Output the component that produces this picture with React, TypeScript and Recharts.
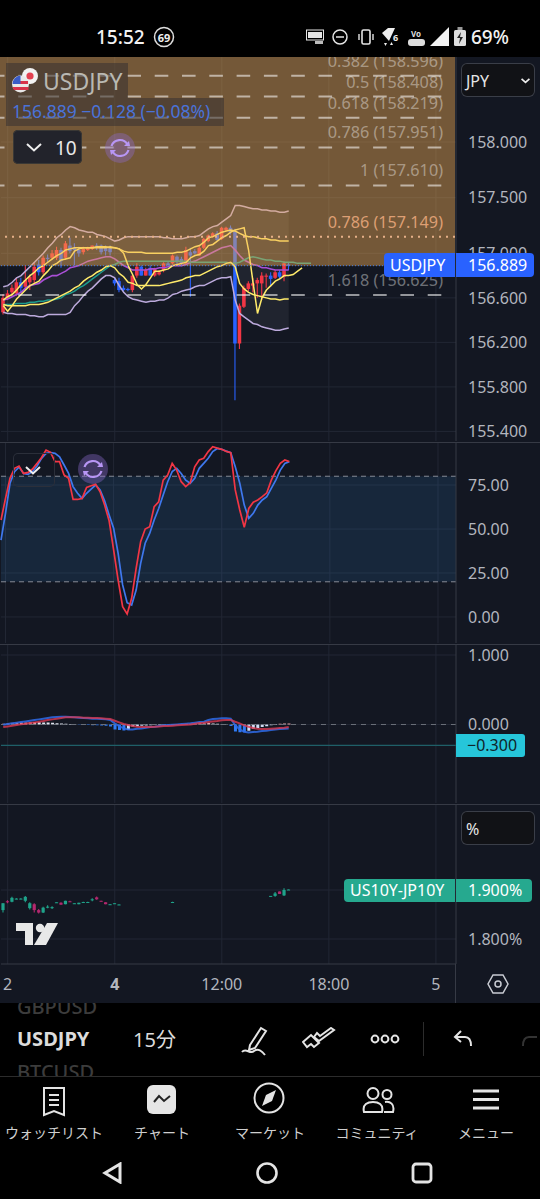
import React from 'react';
import {
  Area,
  Bar,
  CartesianGrid,
  Cell,
  ComposedChart,
  Line,
  ReferenceArea,
  ReferenceLine,
  XAxis,
  YAxis,
} from 'recharts';

const FONT = '"Noto Sans","Noto Sans CJK JP",sans-serif';
const BG = '#131722';
const GRID = '#222734';
const AXIS_TEXT = '#b2b5be';
const SEP = '#363a45';

// USDJPY 15分足 (one bar per slot, the right part of the chart is empty)
const priceOpen = [
  156.47, 156.60, 156.65, 156.64, 156.74, 156.70, 156.74, 156.76, 156.90, 156.83,
  156.96, 156.96, 156.96, 157.03, 156.96, 157.07, 157.05, 157.03, 157.01, 157.03,
  157.04, 157.07, 157.07, 157.05, 157.05, 156.76, 156.75, 156.69, 156.68, 156.67,
  156.80, 156.88, 156.80, 156.87, 156.80, 156.81, 156.85, 156.91, 156.91, 156.97,
  156.95, 156.91, 157.01, 157.02, 156.98, 157.05, 157.11, 157.15, 157.18, 157.13,
  157.21, 157.23, 157.20, 156.19, 156.52, 156.68, 156.71, 156.73, 156.73, 156.79,
  156.80, 156.78, 156.83, 156.79, 156.90,
];
const priceHigh = [
  156.63, 156.67, 156.72, 156.78, 156.78, 156.89, 156.81, 156.92, 156.94, 156.98,
  156.99, 157.03, 157.06, 157.05, 157.11, 157.14, 157.09, 157.06, 157.06, 157.06,
  157.07, 157.09, 157.08, 157.07, 157.07, 156.78, 156.78, 156.71, 156.69, 156.80,
  156.91, 156.89, 156.87, 156.89, 156.87, 156.85, 156.92, 156.93, 156.99, 156.98,
  156.97, 157.06, 157.05, 157.04, 157.07, 157.14, 157.17, 157.19, 157.20, 157.24,
  157.24, 157.25, 157.22, 156.55, 156.71, 156.75, 156.78, 156.78, 156.83, 156.82,
  156.83, 156.85, 156.85, 156.93, 156.92,
];
const priceLow = [
  156.45, 156.58, 156.62, 156.62, 156.65, 156.67, 156.67, 156.73, 156.80, 156.81,
  156.92, 156.94, 156.94, 156.87, 156.94, 157.00, 156.89, 156.97, 156.99, 157.02,
  157.03, 157.03, 156.99, 156.98, 156.98, 156.71, 156.65, 156.66, 156.66, 156.65,
  156.78, 156.80, 156.80, 156.80, 156.79, 156.80, 156.83, 156.89, 156.90, 156.90,
  156.89, 156.90, 156.61, 156.99, 156.98, 157.04, 157.10, 157.14, 157.11, 157.12,
  157.20, 157.17, 155.68, 156.14, 156.51, 156.66, 156.65, 156.60, 156.58, 156.69,
  156.70, 156.77, 156.77, 156.75, 156.85,
];
const priceClose = [
  156.60, 156.64, 156.69, 156.74, 156.69, 156.76, 156.79, 156.88, 156.83, 156.96,
  156.95, 157.00, 157.03, 156.93, 157.09, 157.02, 157.03, 157.00, 157.04, 157.05,
  157.07, 157.06, 157.01, 157.02, 157.01, 156.73, 156.67, 156.67, 156.67, 156.80,
  156.88, 156.80, 156.85, 156.80, 156.86, 156.83, 156.91, 156.89, 156.98, 156.92,
  156.91, 157.03, 156.98, 157.00, 157.05, 157.13, 157.16, 157.18, 157.12, 157.23,
  157.23, 157.19, 156.19, 156.53, 156.69, 156.73, 156.73, 156.76, 156.80, 156.80,
  156.77, 156.83, 156.79, 156.91, 156.889,
];

// ボリンジャーバンド
const bbUpper = [
  156.70, 156.71, 156.74, 156.78, 156.80, 156.84, 156.88, 156.92, 156.96, 157.00,
  157.05, 157.09, 157.14, 157.17, 157.21, 157.24, 157.23, 157.21, 157.20, 157.19,
  157.19, 157.17, 157.16, 157.15, 157.13, 157.11, 157.12, 157.14, 157.15, 157.15,
  157.15, 157.15, 157.15, 157.15, 157.15, 157.15, 157.14, 157.14, 157.13, 157.13,
  157.13, 157.14, 157.15, 157.15, 157.16, 157.19, 157.22, 157.24, 157.25, 157.28,
  157.31, 157.34, 157.43, 157.43, 157.42, 157.41, 157.40, 157.40, 157.39, 157.39,
  157.38, 157.38, 157.37, 157.37, 157.38,
];
const bbLower = [
  156.47, 156.46, 156.46, 156.45, 156.45, 156.45, 156.44, 156.44, 156.43, 156.43,
  156.45, 156.45, 156.45, 156.45, 156.45, 156.47, 156.53, 156.57, 156.62, 156.66,
  156.69, 156.73, 156.77, 156.80, 156.80, 156.78, 156.71, 156.65, 156.61, 156.59,
  156.58, 156.57, 156.56, 156.57, 156.57, 156.58, 156.58, 156.60, 156.63, 156.64,
  156.66, 156.67, 156.68, 156.70, 156.71, 156.71, 156.73, 156.75, 156.77, 156.78,
  156.78, 156.79, 156.58, 156.46, 156.43, 156.40, 156.37, 156.36, 156.34, 156.33,
  156.32, 156.31, 156.31, 156.32, 156.33,
];
const bbBasis = [
  156.58, 156.59, 156.61, 156.63, 156.65, 156.69, 156.71, 156.72, 156.73, 156.76,
  156.78, 156.80, 156.80, 156.82, 156.84, 156.87, 156.88, 156.89, 156.91, 156.93,
  156.94, 156.95, 156.96, 156.97, 156.97, 156.95, 156.92, 156.89, 156.87, 156.85,
  156.85, 156.85, 156.85, 156.86, 156.86, 156.87, 156.87, 156.88, 156.89, 156.89,
  156.89, 156.90, 156.92, 156.93, 156.95, 156.97, 156.99, 157.01, 157.03, 157.05,
  157.06, 157.07, 157.03, 156.98, 156.94, 156.92, 156.90, 156.89, 156.87, 156.87,
  156.86, 156.85, 156.85, 156.85, 156.85,
];
const innerUpper = [
  156.58, 156.61, 156.63, 156.67, 156.72, 156.76, 156.80, 156.83, 156.87, 156.89,
  156.92, 156.95, 156.98, 157.00, 157.03, 157.04, 157.05, 157.05, 157.05, 157.05,
  157.05, 157.06, 157.06, 157.06, 157.05, 157.05, 157.04, 157.02, 157.01, 157.01,
  157.01, 157.01, 157.00, 157.00, 157.00, 157.00, 157.00, 157.00, 157.00, 157.01,
  157.01, 157.02, 157.04, 157.06, 157.07, 157.10, 157.14, 157.15, 157.17, 157.19,
  157.20, 157.21, 157.20, 157.18, 157.16, 157.15, 157.15, 157.14, 157.13, 157.13,
  157.12, 157.12, 157.11, 157.11, 157.11,
];
const innerLower = [
  156.54, 156.53, 156.53, 156.53, 156.53, 156.53, 156.54, 156.54, 156.54, 156.55,
  156.56, 156.58, 156.60, 156.62, 156.64, 156.66, 156.69, 156.71, 156.75, 156.78,
  156.80, 156.83, 156.85, 156.88, 156.89, 156.87, 156.82, 156.79, 156.74, 156.73,
  156.71, 156.71, 156.71, 156.71, 156.71, 156.71, 156.72, 156.73, 156.74, 156.75,
  156.76, 156.78, 156.79, 156.80, 156.80, 156.82, 156.84, 156.86, 156.88, 156.89,
  156.91, 156.92, 156.88, 156.73, 156.68, 156.65, 156.63, 156.62, 156.61, 156.60,
  156.59, 156.59, 156.58, 156.59, 156.59,
];
const fastLine = [
  156.53, 156.48, 156.53, 156.59, 156.63, 156.67, 156.71, 156.73, 156.75, 156.80,
  156.84, 156.89, 156.91, 156.94, 156.95, 156.96, 157.02, 157.04, 157.05, 157.05,
  157.05, 157.05, 157.05, 157.05, 157.06, 157.05, 157.04, 157.00, 156.89, 156.81,
  156.72, 156.68, 156.72, 156.78, 156.84, 156.84, 156.85, 156.86, 156.89, 156.90,
  156.91, 156.92, 156.96, 156.98, 156.99, 157.02, 157.07, 157.08, 157.11, 157.14,
  157.16, 157.19, 157.21, 157.22, 157.23, 157.03, 156.74, 156.46, 156.60, 156.67,
  156.71, 156.75, 156.77, 156.80, 156.80, 156.81, 156.84, 156.87,
];
const tealLine = [
  156.54, 156.54, 156.54, 156.55, 156.55, 156.55, 156.56, 156.56, 156.57, 156.57,
  156.58, 156.58, 156.59, 156.60, 156.63, 156.64, 156.66, 156.69, 156.71, 156.74,
  156.77, 156.80, 156.83, 156.86, 156.89, 156.90, 156.92, 156.93, 156.93, 156.93,
  156.93, 156.93, 156.93, 156.93, 156.93, 156.93, 156.93, 156.93, 156.93, 156.93,
  156.93, 156.93, 156.92, 156.92, 156.92, 156.92, 156.92, 156.92, 156.92, 156.92,
  156.92, 156.91, 156.91, 156.92, 156.94, 156.96, 156.97, 156.96, 156.95, 156.94,
  156.94, 156.93, 156.93, 156.92, 156.92, 156.92, 156.91, 156.91, 156.91, 156.91,
];

// ストキャスティクスRSI
const stochK = [
  55.1, 67.4, 78.8, 84.5, 85.8, 81.6, 82.2, 84.1, 87.3, 90.7,
  94.9, 93.6, 88.3, 88.3, 80.7, 78.8, 66.8, 66.8, 67.4, 73.7,
  74.6, 75.4, 71.2, 63.6, 54.7, 38.1, 21.0, 5.9, 1.7, 10.6,
  27.6, 42.8, 50.0, 51.3, 62.7, 65.5, 77.8, 80.7, 87.3, 83.5,
  76.9, 74.1, 76.3, 85.4, 89.2, 90.2, 94.0, 96.8, 96.0, 95.3,
  94.1, 93.4, 72.2, 60.8, 51.0, 61.7, 65.2, 66.5, 68.4, 70.6,
  77.8, 83.1, 87.3, 89.2, 88.3,
];
const stochD = [
  43.7, 58.9, 76.0, 82.6, 85.2, 81.6, 81.1, 82.6, 85.8, 90.2,
  93.0, 93.4, 93.0, 91.1, 86.4, 81.6, 74.1, 70.3, 67.4, 70.3,
  72.7, 75.0, 72.2, 66.1, 58.0, 50.4, 36.2, 18.2, 8.1, 6.8,
  15.3, 30.5, 41.9, 47.5, 55.1, 61.7, 69.3, 76.9, 82.6, 84.5,
  81.6, 77.8, 76.0, 78.8, 84.5, 87.3, 90.2, 94.0, 95.8, 95.3,
  94.3, 93.4, 85.4, 76.0, 63.6, 56.1, 58.9, 63.6, 66.5, 68.4,
  73.1, 77.8, 83.5, 87.3, 88.3,
];

// MACD
const macdLine = [
  -0.003, 0.007, 0.017, 0.026, 0.036, 0.045, 0.055, 0.065, 0.074, 0.084,
  0.093, 0.103, 0.108, 0.113, 0.113, 0.108, 0.103, 0.098, 0.093, 0.089,
  0.084, 0.084, 0.079, 0.074, 0.065, 0.017, -0.022, -0.056, -0.07, -0.07,
  -0.06, -0.056, -0.046, -0.036, -0.031, -0.022, -0.012, -0.008, -0.003, 0.002,
  0.007, 0.012, 0.017, 0.026, 0.036, 0.04, 0.065, 0.079, 0.084, 0.089,
  0.089, 0.084, -0.008, -0.07, -0.103, -0.113, -0.108, -0.103, -0.094, -0.089,
  -0.08, -0.07, -0.065, -0.06, -0.056,
];
const macdSignal = [
  -0.036, -0.027, -0.017, -0.008, 0.002, 0.012, 0.021, 0.031, 0.04, 0.05,
  0.065, 0.074, 0.084, 0.093, 0.103, 0.103, 0.103, 0.103, 0.098, 0.098,
  0.093, 0.093, 0.089, 0.084, 0.079, 0.055, 0.031, 0.007, -0.008, -0.022,
  -0.031, -0.036, -0.036, -0.036, -0.031, -0.027, -0.022, -0.022, -0.017, -0.012,
  -0.008, -0.003, 0.002, 0.012, 0.021, 0.026, 0.036, 0.045, 0.05, 0.06,
  0.065, 0.065, 0.04, 0.017, -0.012, -0.031, -0.051, -0.06, -0.065, -0.065,
  -0.06, -0.056, -0.051, -0.046, -0.036,
];
const macdHist = [
  0.012, 0.016, 0.02, 0.024, 0.028, 0.03, 0.034, 0.036, 0.034, 0.03,
  0.028, 0.024, 0.02, 0.016, 0.012, 0.008, 0.004, -0.004, -0.006, -0.008,
  -0.01, -0.012, -0.014, -0.018, -0.028, -0.07, -0.08, -0.085, -0.075, -0.03,
  -0.024, -0.018, -0.014, -0.01, -0.008, -0.006, -0.004, 0.003, 0.005, 0.006,
  0.008, 0.01, 0.012, 0.016, 0.018, 0.02, 0.022, 0.016, 0.012, 0.008,
  0.004, -0.02, -0.1, -0.11, -0.11, -0.09, -0.06, -0.05, -0.036, -0.026,
  -0.012, -0.006, 0.01, 0.015, 0.016,
];

// US10Y-JP10Y
const yieldOpen = [
  1.859, 1.877, 1.876, 1.8815, 1.8815, 1.878, 1.863, 1.871, 1.859, 1.854,
  1.865, 1.864, 1.874, 1.874, 1.871, 1.877, 1.872, 1.871, 1.875, 1.875,
  1.88, 1.885, 1.878, 1.875, 1.87, 1.872, 1.87, null, null, null,
  null, null, null, null, null, null, null, null, 1.875, null,
  null, null, null, null, null, null, null, null, null, null,
  null, null, null, null, null, null, null, null, null, null,
  1.887, 1.888, 1.897, 1.889, 1.9,
];
const yieldHigh = [
  1.873, 1.879, 1.886, 1.883, 1.883, 1.888, 1.875, 1.873, 1.861, 1.866,
  1.869, 1.867, 1.875, 1.875, 1.878, 1.878, 1.873, 1.874, 1.876, 1.876,
  1.883, 1.887, 1.878, 1.875, 1.871, 1.873, 1.871, null, null, null,
  null, null, null, null, null, null, null, null, 1.876, null,
  null, null, null, null, null, null, null, null, null, null,
  null, null, null, null, null, null, null, null, null, null,
  1.888, 1.896, 1.897, 1.9035, 1.901,
];
const yieldLow = [
  1.854, 1.873, 1.875, 1.881, 1.881, 1.875, 1.86, 1.854, 1.852, 1.853,
  1.863, 1.861, 1.874, 1.87, 1.871, 1.876, 1.872, 1.871, 1.875, 1.875,
  1.877, 1.88, 1.877, 1.871, 1.87, 1.872, 1.87, null, null, null,
  null, null, null, null, null, null, null, null, 1.875, null,
  null, null, null, null, null, null, null, null, null, null,
  null, null, null, null, null, null, null, null, null, null,
  1.887, 1.886, 1.892, 1.888, 1.9,
];
const yieldClose = [
  1.873, 1.875, 1.884, 1.8825, 1.8825, 1.886, 1.873, 1.859, 1.854, 1.864,
  1.866, 1.865, 1.875, 1.87, 1.878, 1.876, 1.873, 1.874, 1.8755, 1.8755,
  1.881, 1.881, 1.877, 1.871, 1.871, 1.873, 1.8705, null, null, null,
  null, null, null, null, null, null, null, null, 1.8755, null,
  null, null, null, null, null, null, null, null, null, null,
  null, null, null, null, null, null, null, null, null, null,
  1.888, 1.893, 1.892, 1.9, 1.901,
];

// 軸
const SLOT_COUNT = 102;
const timeTickSlots = [1, 25, 49, 73, 97];
const timeTickLabels = ['2', '4', '12:00', '18:00', '5'];
const priceTicks = [155.4, 155.8, 156.2, 156.6, 157, 157.5, 158];
const stochTicks = [0, 25, 50, 75];
const macdTicks = [-1, 0, 1];
const yieldTicks = [1.8, 1.9];
const lastPrice = 156.889;

// フィボナッチ
const fibLevels = [158.596, 158.408, 158.219, 157.951, 157.61, 156.625];
const fibTexts = [
  '0.382 (158.596)',
  '0.5 (158.408)',
  '0.618 (158.219)',
  '0.786 (157.951)',
  '1 (157.610)',
  '1.618 (156.625)',
];
const fibTarget = 157.149;
const fibTargetText = '0.786 (157.149)';

const navLabels = ['ウォッチリスト', 'チャート', 'マーケット', 'コミュニティ', 'メニュー'];

const slots = Array.from({ length: SLOT_COUNT }, (_, i) => i);
const rows = slots.map(i => {
  const has = priceOpen[i] != null;
  const hasYield = yieldOpen[i] != null;
  return {
    slot: i,
    open: priceOpen[i] ?? null,
    high: priceHigh[i] ?? null,
    low: priceLow[i] ?? null,
    close: priceClose[i] ?? null,
    range: has ? [priceLow[i], priceHigh[i]] : null,
    band: has ? [bbLower[i], bbUpper[i]] : null,
    bbUpper: bbUpper[i] ?? null,
    bbLower: bbLower[i] ?? null,
    bbBasis: bbBasis[i] ?? null,
    innerUpper: innerUpper[i] ?? null,
    innerLower: innerLower[i] ?? null,
    fastLine: fastLine[i] ?? null,
    tealLine: tealLine[i] ?? null,
    stochK: stochK[i] ?? null,
    stochD: stochD[i] ?? null,
    macd: macdLine[i] ?? null,
    signal: macdSignal[i] ?? null,
    hist: macdHist[i] ?? null,
    yOpen: hasYield ? yieldOpen[i] : null,
    yHigh: hasYield ? yieldHigh[i] : null,
    yLow: hasYield ? yieldLow[i] : null,
    yClose: hasYield ? yieldClose[i] : null,
    yRange: hasYield ? [yieldLow[i], yieldHigh[i]] : null,
  };
});

const histColor = (v: number, i: number) => {
  const prev = i > 0 ? macdHist[i - 1] : v;
  if (v >= 0) return v >= prev ? '#e8a6ac' : '#dfe3ee';
  return v <= prev ? '#2f7bf5' : '#cfdcf6';
};

// ローソク足: Barの[low, high]の矩形から実体を割り出す
const candle = (o: string, h: string, l: string, c: string, up: string, down: string, bodyW: number) => (props: any) => {
  const { x, y, width, height, payload } = props;
  if (payload == null || payload[o] == null) return null;
  const top = Math.min(y, y + height);
  const span = Math.abs(height);
  const range = payload[h] - payload[l];
  const toY = (v: number) => (range > 0 ? top + ((payload[h] - v) / range) * span : top);
  const color = payload[c] >= payload[o] ? up : down;
  const cx = x + width / 2;
  const bodyTop = toY(Math.max(payload[o], payload[c]));
  const bodyH = Math.max(1, toY(Math.min(payload[o], payload[c])) - bodyTop);
  return (
    <g>
      <line x1={cx} x2={cx} y1={top} y2={top + span} stroke={color} strokeWidth={1.1} />
      <rect x={cx - bodyW / 2} y={bodyTop} width={bodyW} height={bodyH} fill={color} />
    </g>
  );
};

const axisTick = { fill: AXIS_TEXT, fontSize: 16, fontFamily: FONT };
const chartMargin = { top: 0, right: 0, bottom: 0, left: 1 };

const fmtMinus = (s: string) => s.replace('-', '−');

const FibLabel = (text: string, fill: string) => (props: any) => {
  const { viewBox } = props;
  return (
    <text x={viewBox.x + viewBox.width - 12} y={viewBox.y - 9} textAnchor="end" fill={fill} fontSize={16.2} fontFamily={FONT}>
      {text}
    </text>
  );
};

const Abs: React.FC<{ x: number; y: number; w?: number; h?: number; style?: React.CSSProperties; children?: React.ReactNode }> = ({ x, y, w, h, style, children }) => (
  <div style={{ position: 'absolute', left: x, top: y, width: w, height: h, ...style }}>{children}</div>
);

const Label: React.FC<{ x: number; y: number; size: number; color: string; anchor?: string; weight?: number; children: React.ReactNode }> = ({ x, y, size, color, anchor = 'left', weight = 400, children }) => (
  <div
    style={{
      position: 'absolute',
      left: x,
      top: y,
      transform: `translate(${anchor === 'center' ? '-50%' : anchor === 'right' ? '-100%' : '0'},-50%)`,
      fontSize: size,
      color,
      fontWeight: weight,
      whiteSpace: 'nowrap',
      lineHeight: 1,
      fontFamily: FONT,
    }}
  >
    {children}
  </div>
);

const Chevron: React.FC<{ cx: number; cy: number; size?: number; color?: string; width?: number }> = ({ cx, cy, size = 16, color = '#eee', width = 2 }) => (
  <svg style={{ position: 'absolute', left: cx - size / 2, top: cy - size / 2 }} width={size} height={size} viewBox="0 0 16 16">
    <path d="M1 5 L8 11.5 L15 5" fill="none" stroke={color} strokeWidth={width} />
  </svg>
);

const SyncIcon: React.FC<{ cx: number; cy: number }> = ({ cx, cy }) => (
  <svg style={{ position: 'absolute', left: cx - 16, top: cy - 16 }} width={32} height={32} viewBox="0 0 32 32">
    <circle cx={16} cy={16} r={15} fill="#8d6bd0" fillOpacity={0.38} />
    <path d="M7.5 14 A8.8 8.8 0 0 1 23.5 12.5" fill="none" stroke="#b896f5" strokeWidth={2.2} />
    <path d="M24.5 18 A8.8 8.8 0 0 1 8.5 19.5" fill="none" stroke="#b896f5" strokeWidth={2.2} />
    <path d="M20 14 L26 14 L25 9 Z" fill="#b896f5" />
    <path d="M12 18 L6 18 L7 23 Z" fill="#b896f5" />
  </svg>
);

const Icon: React.FC<{ x: number; y: number; w: number; h: number; children: React.ReactNode }> = ({ x, y, w, h, children }) => (
  <svg style={{ position: 'absolute', left: x, top: y }} width={w} height={h} viewBox={`0 0 ${w} ${h}`} fill="none" stroke="#e4e4e4" strokeWidth={2}>
    {children}
  </svg>
);

const PriceChart = () => (
  <ComposedChart width={540} height={384} data={rows} margin={chartMargin} barCategoryGap={0}>
    <CartesianGrid stroke={GRID} verticalValues={timeTickSlots} horizontalValues={priceTicks} />
    <XAxis dataKey="slot" hide ticks={timeTickSlots} />
    <YAxis
      orientation="right"
      width={84}
      domain={[155.314, 158.764]}
      ticks={priceTicks}
      tick={axisTick}
      tickLine={false}
      tickSize={0}
      tickMargin={12}
      axisLine={{ stroke: SEP }}
      tickFormatter={(v: number) => v.toFixed(3)}
      allowDataOverflow
    />
    <Area dataKey="band" stroke="none" fill="#ffffff" fillOpacity={0.06} isAnimationActive={false} />
    <Line dataKey="bbUpper" stroke="#bcaadc" strokeWidth={1.5} dot={false} isAnimationActive={false} />
    <Line dataKey="bbLower" stroke="#bcaadc" strokeWidth={1.5} dot={false} isAnimationActive={false} />
    <Line dataKey="bbBasis" stroke="#a94fd6" strokeWidth={1.6} dot={false} isAnimationActive={false} />
    <Line dataKey="tealLine" stroke="#1d9c8e" strokeWidth={1.5} dot={false} isAnimationActive={false} />
    <Bar dataKey="range" shape={candle('open', 'high', 'low', 'close', '#f23645', '#2962ff', 3.6)} isAnimationActive={false} />
    <Line dataKey="innerUpper" stroke="#ffeb6b" strokeWidth={1.5} dot={false} isAnimationActive={false} />
    <Line dataKey="innerLower" stroke="#ffeb6b" strokeWidth={1.5} dot={false} isAnimationActive={false} />
    <Line dataKey="fastLine" stroke="#ffeb6b" strokeWidth={1.5} dot={false} isAnimationActive={false} />
  </ComposedChart>
);

// 橙の帯とフィボナッチはローソク足の上に重なる
const FibOverlay = () => (
  <ComposedChart width={540} height={384} data={rows} margin={{ top: 0, right: 0, bottom: 0, left: 0 }} barCategoryGap={0}>
    <XAxis dataKey="slot" hide />
    <YAxis orientation="right" width={85} domain={[155.314, 158.764]} tick={false} tickLine={false} axisLine={false} allowDataOverflow />
    <ReferenceArea y1={lastPrice} y2={158.764} fill="#f2ac55" fillOpacity={0.44} stroke="none" ifOverflow="hidden" />
    <ReferenceLine y={lastPrice} stroke="#4d7fe0" strokeDasharray="1 2" />
    {fibLevels.map((level, i) => (
      <ReferenceLine
        key={level}
        y={level}
        stroke="#ffffff"
        strokeOpacity={0.55}
        strokeWidth={2}
        strokeDasharray="13.6 13.7"
        strokeDashoffset={13.6}
        label={FibLabel(fibTexts[i], '#ffffff66')}
      />
    ))}
    <ReferenceLine
      y={fibTarget}
      stroke="#e6b088"
      strokeWidth={2}
      strokeDasharray="2 5"
      label={FibLabel(fibTargetText, '#dd9f74')}
    />
  </ComposedChart>
);

const StochChart = () => (
  <ComposedChart width={540} height={200} data={rows} margin={chartMargin}>
    <CartesianGrid stroke={GRID} verticalValues={timeTickSlots} horizontalValues={stochTicks} />
    <XAxis dataKey="slot" hide ticks={timeTickSlots} />
    <YAxis
      orientation="right"
      width={84}
      domain={[-14.8, 98.9]}
      ticks={stochTicks}
      tick={axisTick}
      tickLine={false}
      tickSize={0}
      tickMargin={12}
      axisLine={{ stroke: SEP }}
      tickFormatter={(v: number) => v.toFixed(2)}
      allowDataOverflow
    />
    <ReferenceArea y1={20} y2={80} fill="#3992ea" fillOpacity={0.13} stroke="none" />
    <ReferenceLine y={80} stroke="#868b96" strokeDasharray="5 4" />
    <ReferenceLine y={20} stroke="#868b96" strokeDasharray="5 4" />
    <Line dataKey="stochD" stroke="#3f78ee" strokeWidth={1.7} dot={false} isAnimationActive={false} />
    <Line dataKey="stochK" stroke="#f23645" strokeWidth={1.7} dot={false} isAnimationActive={false} />
  </ComposedChart>
);

const MacdChart = () => (
  <ComposedChart width={540} height={158} data={rows} margin={chartMargin} barCategoryGap={0}>
    <CartesianGrid stroke={GRID} verticalValues={timeTickSlots} horizontalValues={macdTicks} />
    <XAxis dataKey="slot" hide ticks={timeTickSlots} />
    <YAxis
      orientation="right"
      width={84}
      domain={[-1.129, 1.144]}
      ticks={macdTicks}
      tick={axisTick}
      tickLine={false}
      tickSize={0}
      tickMargin={12}
      axisLine={{ stroke: SEP }}
      tickFormatter={(v: number) => fmtMinus(v.toFixed(3))}
      allowDataOverflow
    />
    <ReferenceLine y={0} stroke="#6b7079" strokeDasharray="5 5" />
    <ReferenceLine y={-0.3} stroke="#1f5f68" strokeWidth={1.2} />
    <Bar dataKey="hist" barSize={3} isAnimationActive={false}>
      {rows.map((r, i) => (
        <Cell key={r.slot} fill={r.hist == null ? 'none' : histColor(r.hist, i)} />
      ))}
    </Bar>
    <Line dataKey="macd" stroke="#2f6be8" strokeWidth={2} strokeOpacity={0.85} dot={false} isAnimationActive={false} />
    <Line dataKey="signal" stroke="#d93a52" strokeWidth={2} strokeOpacity={0.8} dot={false} isAnimationActive={false} />
  </ComposedChart>
);

const TimeTick = (props: any) => {
  const { x, y, payload } = props;
  const label = timeTickLabels[timeTickSlots.indexOf(payload.value)];
  return (
    <text x={x} y={y + 5} textAnchor="middle" fill={AXIS_TEXT} fontSize={16} fontFamily={FONT} fontWeight={label === '4' ? 700 : 400}>
      {label}
    </text>
  );
};

const YieldChart = () => (
  <ComposedChart width={540} height={198} data={rows} margin={chartMargin} barCategoryGap={0}>
    <CartesianGrid stroke={GRID} verticalValues={timeTickSlots} horizontalValues={yieldTicks} />
    <XAxis
      dataKey="slot"
      ticks={timeTickSlots}
      interval={0}
      height={39}
      tick={<TimeTick />}
      tickLine={false}
      axisLine={{ stroke: SEP }}
      tickMargin={15}
    />
    <YAxis
      orientation="right"
      width={84}
      domain={[1.749, 2.0735]}
      ticks={yieldTicks}
      tick={axisTick}
      tickLine={false}
      tickSize={0}
      tickMargin={12}
      axisLine={{ stroke: SEP }}
      tickFormatter={(v: number) => `${v.toFixed(3)}%`}
      allowDataOverflow
    />
    <Bar dataKey="yRange" shape={candle('yOpen', 'yHigh', 'yLow', 'yClose', '#1fa38a', '#b3286e', 3.2)} isAnimationActive={false} />
  </ComposedChart>
);

const StatusBar = () => (
  <Abs x={0} y={0} w={540} h={57} style={{ background: '#000' }}>
    <Label x={96} y={37} size={19} color="#f2f2f2" weight={500}>15:52</Label>
    <svg style={{ position: 'absolute', left: 153, top: 26 }} width={22} height={22}>
      <circle cx={11} cy={11} r={9.5} fill="none" stroke="#ddd" strokeWidth={1.5} />
    </svg>
    <Label x={164} y={37} size={11} color="#eee" anchor="center" weight={700}>69</Label>
    <Icon x={306} y={29} w={18} h={16}>
      <rect x={0.5} y={1} width={17} height={10} strokeWidth={1} />
      <rect x={2} y={3} width={14} height={6} fill="#e4e4e4" stroke="none" />
      <rect x={9} y={12} width={8} height={3} fill="#bbb" stroke="none" />
    </Icon>
    <Icon x={332} y={29} w={16} h={16}>
      <circle cx={8} cy={8} r={7} strokeWidth={1.5} />
      <line x1={4} x2={12} y1={8} y2={8} strokeWidth={1.5} />
    </Icon>
    <Icon x={357} y={28} w={18} h={18}>
      <rect x={5} y={2} width={8} height={14} rx={1.5} strokeWidth={1.6} />
      <line x1={2} x2={2} y1={6} y2={12} strokeWidth={1.4} />
      <line x1={16} x2={16} y1={6} y2={12} strokeWidth={1.4} />
    </Icon>
    <Icon x={382} y={28} w={18} h={18}>
      <path d="M0 5 L6 0 L13 0 L7 13 Z" fill="#eee" stroke="none" />
      <path d="M2 15 L5 15 L3.5 18 Z" fill="#eee" stroke="none" />
      <path d="M8 17 L11 17 L9.5 14 Z" fill="#eee" stroke="none" />
    </Icon>
    <Label x={393} y={37} size={9} color="#eee" weight={700}>6</Label>
    <Label x={416} y={34} size={8} color="#ddd" anchor="center" weight={700}>Vo</Label>
    <Abs x={408} y={39} w={17} h={7} style={{ background: '#ddd', borderRadius: 3 }} />
    <svg style={{ position: 'absolute', left: 430, top: 27 }} width={20} height={20}>
      <path d="M0 19 L19 0 L19 19 Z" fill="#f2f2f2" />
    </svg>
    <svg style={{ position: 'absolute', left: 454, top: 27 }} width={13} height={20}>
      <rect x={3.5} y={0} width={5} height={3} fill="#999" />
      <rect x={0} y={3} width={12} height={16} rx={1.5} fill="#ddd" />
      <path d="M7 5 L3 11 L6 11 L5 17 L9 10 L6 10 Z" fill="#222" />
    </svg>
    <Label x={471} y={37} size={19} color="#f2f2f2" weight={500}>69%</Label>
  </Abs>
);

const LegendOverlay = () => (
  <>
    <Abs x={6} y={63} w={122} h={35} style={{ background: 'rgba(55,50,50,0.55)' }} />
    <Abs x={6} y={98} w={218} h={28} style={{ background: 'rgba(55,50,50,0.55)' }} />
    <svg style={{ position: 'absolute', left: 11, top: 67 }} width={30} height={28}>
      <circle cx={19} cy={9} r={8} fill="#f2f2f2" />
      <circle cx={19} cy={9} r={3.6} fill="#e34050" />
      <circle cx={9.5} cy={17} r={8.5} fill="#e8e8e8" />
      <path d="M2 14 H17 V17 H2 Z M1.5 20 H17.5 V23 H3 Z" fill="#d8324a" />
      <path d="M1.5 17 A8.5 8.5 0 0 1 9.5 8.5 V17 Z" fill="#3a5cc8" />
    </svg>
    <Label x={43} y={81} size={23} color="#b9b8b2">USDJPY</Label>
    <Label x={12} y={112} size={17.5} color="#4a72d8">156.889 −0.128 (−0.08%)</Label>
    <Abs x={13} y={130} w={69} h={34} style={{ background: '#22232b', borderRadius: 5, boxShadow: 'inset 0 0 0 1px #3a3835' }} />
    <Chevron cx={34} cy={147} />
    <Label x={55} y={148} size={19} color="#e8e8e8">10</Label>
    <SyncIcon cx={120} cy={148} />

    <Abs x={461} y={63} w={74} h={34} style={{ background: '#111216', borderRadius: 6, boxShadow: 'inset 0 0 0 1px #3a3e48' }} />
    <Label x={466} y={81} size={16} color="#e6e6e6">JPY</Label>
    <Chevron cx={525} cy={80} size={9} width={3} />

    <Abs x={384} y={253} w={71} h={24} style={{ background: '#2962ff', borderRadius: '4px 0 0 4px' }} />
    <Abs x={456} y={253} w={78} h={24} style={{ background: '#2962ff', borderRadius: '0 4px 4px 0' }} />
    <Label x={390} y={265} size={16} color="#fff">USDJPY</Label>
    <Label x={468} y={265} size={16} color="#fff">156.889</Label>

    <Abs x={13} y={453} w={42} h={34} style={{ borderRadius: 5, boxShadow: 'inset 0 0 0 1px #2b2f3a' }} />
    <Chevron cx={33} cy={470} />
    <SyncIcon cx={93} cy={469} />

    <Abs x={456} y={734} w={69} h={23} style={{ background: '#26c6da', borderRadius: '0 3px 3px 0' }} />
    <Label x={467} y={745} size={16} color="#10242a">−0.300</Label>

    <Abs x={461} y={811} w={74} h={34} style={{ background: '#111216', borderRadius: 6, boxShadow: 'inset 0 0 0 1px #3a3e48' }} />
    <Label x={466} y={829} size={16} color="#e6e6e6">%</Label>

    <Abs x={344} y={879} w={111} h={23} style={{ background: '#26a98f', borderRadius: '4px 0 0 4px' }} />
    <Abs x={456} y={879} w={76} h={23} style={{ background: '#26a98f', borderRadius: '0 4px 4px 0' }} />
    <Label x={350} y={890} size={16} color="#fff">US10Y-JP10Y</Label>
    <Label x={468} y={890} size={16} color="#fff">1.900%</Label>

    <svg style={{ position: 'absolute', left: 16, top: 923 }} width={42} height={23}>
      <path d="M0 0 H17 V22 H9 V8 H0 Z" fill="#e8e8e8" />
      <circle cx={24} cy={5} r={4.2} fill="#e8e8e8" />
      <path d="M31 0 H42 L30 22 H18 Z" fill="#e8e8e8" />
    </svg>

    <svg style={{ position: 'absolute', left: 487, top: 973 }} width={22} height={22}>
      <path d="M6 2 H16 L21 11 L16 20 H6 L1 11 Z" fill="none" stroke="#c9ccd3" strokeWidth={1.5} />
      <circle cx={11} cy={11} r={3} fill="none" stroke="#c9ccd3" strokeWidth={1.5} />
    </svg>
  </>
);

const BottomBars = () => (
  <Abs x={0} y={1003} w={540} h={196} style={{ background: '#000', overflow: 'hidden' }}>
    <Label x={17} y={4} size={20} color="#3c3c3c" weight={500}>GBPUSD</Label>
    <Label x={17} y={36} size={20} color="#dcdcdc" weight={700}>USDJPY</Label>
    <Label x={17} y={69} size={20} color="#3c3c3c" weight={500}>BTCUSD</Label>
    <Abs x={0} y={73} w={540} h={123} style={{ background: '#000', borderTop: '1px solid #2c2c2c' }} />
    <Label x={133} y={37} size={20} color="#dcdcdc">15分</Label>

    <Icon x={240} y={22} w={28} h={32}>
      <path d="M10 20 L21 3 L26 6 L15 23 L9 25 Z" />
      <path d="M2 27 C6 22 10 30 14 26 C18 23 22 26 25 30" />
    </Icon>
    <Icon x={302} y={24} w={34} h={22}>
      <path d="M1 15 L9 8 L17 16 L12 20 L9 17 L5 20 Z" />
      <path d="M12 10 L17 14 L32 3 L29 1 L18 9 L15 6 Z" />
    </Icon>
    <Icon x={370} y={30} w={30} h={12}>
      <circle cx={5} cy={6} r={3.4} />
      <circle cx={15} cy={6} r={3.4} />
      <circle cx={25} cy={6} r={3.4} />
    </Icon>
    <Abs x={423} y={19} w={1} h={34} style={{ background: '#2c2c2c' }} />
    <Icon x={453} y={26} w={20} h={18}>
      <path d="M8 2 L2 8 L8 13 M2 8 H12 C16 8 18 11 18 17" />
    </Icon>
    <Icon x={521} y={26} w={19} h={18}>
      <path d="M2 17 C2 11 4 8 8 8 H16" stroke="#333" />
    </Icon>

    {/* ナビゲーション */}
    <Icon x={42} y={84} w={24} h={30}>
      <path d="M2 1 H22 V28 L12 24 L2 28 Z" />
      <path d="M7 8 H17 M7 13 H17 M7 18 H17" />
    </Icon>
    <Abs x={147} y={82} w={29} h={29} style={{ background: '#e6e6e6', borderRadius: 6 }} />
    <Icon x={153} y={90} w={18} h={12}>
      <path d="M1 9 L6 3 L11 8 L17 3" stroke="#222" />
    </Icon>
    <Icon x={253} y={79} w={32} h={32}>
      <circle cx={16} cy={16} r={14.5} />
      <path d="M23 8 L19 19 L9 24 L13 13 Z" fill="#e4e4e4" stroke="none" />
    </Icon>
    <Icon x={362} y={84} w={33} h={26}>
      <circle cx={11} cy={6.5} r={5.5} />
      <circle cx={25} cy={7.5} r={4.5} />
      <path d="M2 25 C0 17 6 15 11 15 C16 15 22 17 20 25 Z" />
      <path d="M23 15 C28 14 33 17 31 25 H22" />
    </Icon>
    <Icon x={472} y={86} w={28} h={22}>
      <path d="M1 2 H27 M1 10.500 H27 M1 19 H27" strokeWidth={3} />
    </Icon>
    {navLabels.map((label, i) => (
      <Label key={label} x={[54, 162, 270, 377, 486][i]} y={130} size={14} color="#cfcfcf" anchor="center">
        {label}
      </Label>
    ))}

    <Icon x={102} y={159} w={20} h={22}>
      <path d="M18 2 L3 11 L18 20 Z" strokeWidth={3} />
    </Icon>
    <Icon x={255} y={158} w={24} h={24}>
      <circle cx={12} cy={12} r={9.500} strokeWidth={2.6} />
    </Icon>
    <Icon x={411} y={159} w={22} h={22}>
      <rect x={2} y={2} width={18} height={18} rx={3} strokeWidth={2.8} />
    </Icon>
  </Abs>
);

export default function App() {
  return (
    <div style={{ position: 'fixed', left: 0, top: 0, width: 540, height: 1199, background: BG, overflow: 'hidden', fontFamily: FONT }}>
      <Abs x={0} y={57}><PriceChart /></Abs>
      <Abs x={0} y={57}><FibOverlay /></Abs>
      <Abs x={0} y={442} w={540} h={1} style={{ background: SEP }} />
      <Abs x={0} y={443}><StochChart /></Abs>
      <Abs x={0} y={644} w={540} h={1} style={{ background: SEP }} />
      <Abs x={0} y={645}><MacdChart /></Abs>
      <Abs x={0} y={804} w={540} h={1} style={{ background: SEP }} />
      <Abs x={0} y={805}><YieldChart /></Abs>
      <Abs x={455} y={964} w={1} h={39} style={{ background: SEP }} />
      <LegendOverlay />
      <StatusBar />
      <BottomBars />
    </div>
  );
}
